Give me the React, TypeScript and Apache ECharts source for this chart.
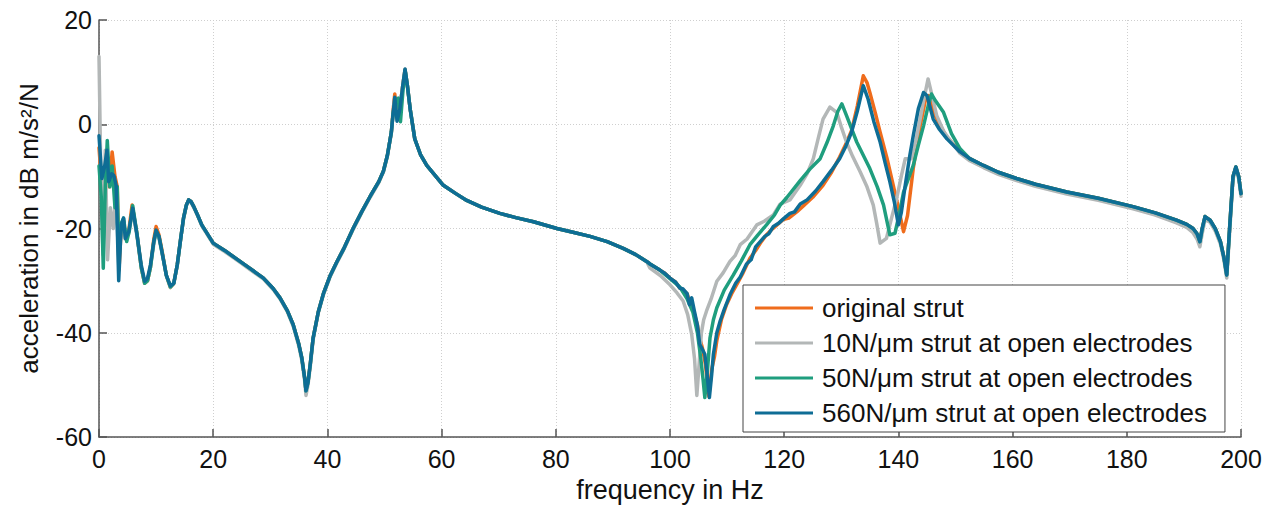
import React, { useEffect, useRef } from "react";
import * as echarts from "echarts";

type P = [number, number];

const FONT = '"Liberation Sans", Arial, Helvetica, sans-serif';

const seriesNames = [
  "original strut",
  "10N/\u03bcm strut at open electrodes",
  "50N/\u03bcm strut at open electrodes",
  "560N/\u03bcm strut at open electrodes",
];
const seriesColors = ["#ef6c1c", "#b3b7b7", "#1f9e7e", "#0e6d95"];

// ---- low-frequency part (0 - 17 Hz) ----
const lowOrange: P[] = [[0,-4.5],[0.5,-12],[1.0,-9],[1.4,-6],[1.8,-12],[2.3,-5.3],[2.8,-10],[3.2,-12],[3.5,-28],[3.9,-19.5],[4.3,-18.5],[4.6,-21.5],[5.2,-20.5],[5.8,-15.5],[6.65,-21],[7.4,-27.5],[8.0,-30.5],[8.5,-30],[9.0,-27.5],[9.6,-22],[10.0,-19.6],[10.5,-21.2],[11.0,-24],[11.8,-29],[12.5,-31.3],[13.1,-30.5],[13.7,-27],[14.3,-22],[14.8,-18],[15.3,-15.5],[15.7,-14.5],[16.1,-14.8],[16.6,-15.8],[17.3,-17.5]];
const lowGray: P[] = [[0,13],[0.3,-8],[0.7,-25],[1.1,-5],[1.5,-26],[2.0,-16],[2.5,-20],[3.0,-13],[3.45,-27],[3.9,-19.5],[4.3,-18.5],[4.6,-22],[5.2,-21],[5.9,-16.5],[6.65,-21.5],[7.4,-27.5],[8.0,-30.5],[8.5,-30],[9.0,-27.5],[9.6,-23],[10.0,-20.8],[10.5,-21.8],[11.0,-24.5],[11.8,-29],[12.5,-31.3],[13.1,-30.5],[13.7,-27.2],[14.3,-22],[14.8,-18.2],[15.3,-15.6],[15.7,-14.7],[16.1,-15],[16.6,-16],[17.3,-17.6]];
const lowGreen: P[] = [[0,-8],[0.4,-14],[0.75,-27.6],[1.1,-12],[1.45,-3.1],[1.9,-12],[2.3,-8],[2.8,-16],[3.2,-12],[3.5,-26],[3.9,-19],[4.3,-18],[4.85,-22.5],[5.3,-20.5],[5.9,-15.6],[6.65,-21],[7.4,-27.5],[8.0,-30.5],[8.5,-30],[9.0,-27.5],[9.6,-22.5],[10.0,-20.5],[10.5,-21.5],[11.0,-24.3],[11.8,-29],[12.5,-31.2],[13.1,-30.5],[13.7,-27],[14.3,-22],[14.8,-18],[15.3,-15.5],[15.7,-14.5],[16.1,-14.8],[16.6,-15.8],[17.3,-17.5]];
const lowBlue: P[] = [[0,-2.2],[0.5,-10.4],[1.0,-8],[1.4,-5],[1.7,-11],[2.2,-9.5],[2.6,-9.8],[3.0,-11.7],[3.45,-30],[3.9,-19.3],[4.3,-18],[4.6,-21.9],[5.2,-20.6],[5.9,-16.1],[6.65,-21.2],[7.4,-27],[8.0,-30.1],[8.5,-29.5],[9.0,-27],[9.6,-22.5],[10.0,-20.3],[10.5,-21.5],[11.0,-24.3],[11.8,-29],[12.5,-31],[13.1,-30.5],[13.7,-27],[14.3,-22],[14.8,-18],[15.3,-15.5],[15.7,-14.5],[16.1,-14.8],[16.6,-15.8],[17.3,-17.5]];

// ---- 18 - 51 Hz (anti-resonance at 36 Hz) ----
const midA: P[] = [[18.0,-19.3],[20.0,-22.8],[22.0,-24.2],[24.7,-26.3],[26.5,-27.7],[28.8,-29.5],[30.5,-31.5],[31.7,-33.3],[33.0,-35.8],[34.0,-38.4],[35.0,-42.2],[35.5,-44.7],[36.0,-48.5],[36.25,-51.1],[36.6,-49.5],[37.0,-46],[37.5,-41],[38.4,-36],[39.3,-32.5],[40.5,-29],[41.6,-26.5],[42.8,-24],[44.5,-20],[46.0,-16.8],[47.5,-13.8],[49.0,-11],[49.8,-9],[50.5,-6],[51.2,-1.5]];
const midAGray: P[] = [[18.0,-19.5],[20.0,-23],[22.0,-24.4],[24.7,-26.5],[26.5,-27.9],[28.8,-29.7],[30.5,-31.7],[31.7,-33.5],[33.0,-36],[34.0,-38.7],[35.0,-42.6],[35.5,-45.2],[36.0,-49],[36.25,-52],[36.6,-50],[37.0,-46.5],[37.5,-41.3],[38.4,-36.2],[39.3,-32.7],[40.5,-29.2],[41.6,-26.7],[42.8,-24.2],[44.5,-20.2],[46.0,-17],[47.5,-14],[49.0,-11.2],[49.8,-9.2],[50.5,-6.2],[51.2,-1.7]];

// ---- resonance at 53-54 Hz ----
const peakOrange: P[] = [[51.5,2.5],[51.8,5.8],[52.2,1.5],[52.7,3],[53.2,7.5],[53.6,10.5],[54.0,7.5],[54.5,2.9],[55.3,-2.8],[56.3,-5.8]];
const peakGray: P[] = [[51.5,2],[51.8,5],[52.2,0.8],[52.7,2.9],[53.2,7.5],[53.6,10.4],[54.0,7.5],[54.5,2.9],[55.3,-2.8],[56.3,-5.8]];
const peakGreen: P[] = [[51.5,2],[51.9,4.6],[52.4,5],[52.8,0.5],[53.2,6],[53.6,10.4],[54.0,7.5],[54.5,2.9],[55.3,-2.8],[56.3,-5.8]];
const peakBlue: P[] = [[51.5,2],[51.8,5.2],[52.2,0.6],[52.7,2.9],[53.2,7.5],[53.6,10.6],[54.0,7.5],[54.5,2.9],[55.3,-2.8],[56.3,-5.8]];

// ---- 57 - 96 Hz ----
const midB: P[] = [[57.4,-7.9],[60.3,-11.7],[62.5,-13.3],[64.4,-14.6],[67,-15.9],[70.2,-17.1],[73,-17.9],[76.1,-18.7],[80.2,-20],[83,-20.7],[86.0,-21.5],[89,-22.5],[91.8,-23.8],[94,-25],[95.9,-26.3]];

// ---- 96 - 151 Hz ----
const highOrange: P[] = [[96.5,-26.8],[98,-27.8],[99,-28.5],[100,-29.5],[101,-30.3],[101.7,-31.4],[102.3,-31.8],[103.0,-32.5],[103.4,-34],[103.8,-34.5],[104.3,-36.5],[104.8,-38.5],[105.2,-41],[105.7,-43],[106.2,-46],[106.8,-52.2],[107.3,-47],[107.8,-44.5],[108.2,-41.5],[109.0,-37.5],[109.9,-34.6],[110.8,-32.5],[111.8,-30.5],[112.8,-28.5],[114.0,-25.7],[115.0,-24.2],[116.0,-22.5],[116.9,-21.2],[118.0,-20],[119.8,-18.3],[120.8,-18],[122.2,-16.8],[123.5,-15.5],[125,-14],[126.8,-11.7],[128.3,-9.2],[129.7,-6.3],[130.8,-3.8],[131.8,-1.2],[132.8,3.5],[133.85,9.3],[134.5,8],[135,6.1],[136.0,2],[136.8,-1.5],[138.0,-6.5],[139.1,-11.7],[140.0,-16],[140.9,-20.6],[141.6,-17.5],[142.6,-8.5],[143.6,-1.5],[144.7,4.5],[145.3,5.5],[146.1,2.5],[147.2,0],[148.5,-2.5],[150.8,-5.2]];
const highGray: P[] = [[96.5,-27.6],[98.3,-29],[100,-30.8],[101.2,-32.3],[102.3,-33.9],[103.1,-36.5],[103.8,-40.3],[104.3,-45],[104.7,-52],[105.1,-46],[105.5,-40],[105.9,-37.5],[106.4,-35.8],[107.2,-33.5],[108.2,-30.1],[109.3,-28.5],[110.5,-26.3],[111.4,-25.2],[112.3,-23.1],[113.5,-22],[115.2,-19.3],[116.5,-18.6],[118.1,-17.4],[119.3,-15.3],[121,-14.5],[122.8,-11.7],[124,-9.5],[125.1,-6.6],[126,-2.5],[126.8,1],[128,3.3],[129.2,2.3],[130,-0.5],[130.9,-3.4],[132,-6.2],[133.3,-9.1],[134.5,-12],[135.6,-15.5],[136.2,-19],[136.8,-22.8],[137.9,-21.9],[138.8,-18],[139.7,-14.2],[140.5,-10],[141.2,-6.6],[142.3,-6.6],[143.1,-3],[143.8,1],[144.5,5],[145.2,8.7],[146,5],[146.7,1.7],[148,-1.5],[150.8,-5.6]];
const highGreen: P[] = [[96.5,-26.8],[98,-27.8],[100,-29.6],[101.7,-31.2],[103,-33.5],[104,-36],[104.8,-40],[105.4,-45],[105.8,-49],[106.1,-52.4],[106.5,-48],[107,-41],[107.6,-37.5],[108.2,-35.2],[109.5,-31.8],[111.1,-28.9],[112.5,-26.2],[114,-23.1],[115.4,-21.2],[116.9,-19.3],[118.3,-17.4],[119.3,-15.5],[120.5,-14],[122.8,-10.8],[124.5,-8.6],[126.3,-6.6],[127.5,-3.5],[128.6,-0.3],[129.4,2.5],[130.1,3.9],[130.9,1.7],[132.7,-3.4],[135,-8.5],[136.3,-12],[137.4,-15.5],[138.5,-21.2],[139.4,-20.9],[140.2,-17],[140.9,-13],[142.6,-7.9],[143.5,-4],[144.4,-0.3],[145.2,3.5],[145.8,5.8],[146.5,4.5],[147.9,2.3],[149.3,-1.8],[150.8,-4.7]];
const highBlue: P[] = [[96.5,-26.8],[98,-27.8],[99,-28.5],[100,-29.5],[101,-30.3],[101.7,-31.4],[102.3,-31.6],[103.0,-32.5],[103.4,-34.6],[103.8,-33.3],[104.3,-36],[104.8,-38.5],[105.2,-42.2],[105.6,-43],[106.1,-44.1],[106.5,-48],[106.9,-52.4],[107.3,-48],[107.6,-44.1],[108.2,-40],[108.8,-37.7],[109.5,-35.5],[110.5,-32.7],[111.5,-30.5],[112.3,-29.3],[113.4,-26.8],[114.2,-26],[115.0,-23.5],[115.8,-22.5],[116.6,-21.5],[117.3,-21],[118.1,-19.6],[119.0,-19.0],[120.0,-18.0],[121.0,-17.1],[121.8,-16.8],[122.8,-15.3],[124,-14.5],[125.5,-12.8],[126.8,-11],[128.3,-8.8],[129.7,-6.6],[130.8,-4.2],[131.8,-1.5],[132.8,2.5],[133.85,7.4],[134.7,4.8],[135.7,0.5],[136.8,-3.4],[137.7,-7.5],[138.5,-11],[139.3,-15],[140.0,-19.3],[140.5,-17],[141.2,-11.7],[142.0,-6],[142.6,-2.2],[143.5,3],[144.4,6.1],[145.0,5.5],[146.1,1.0],[147.2,-1],[148.5,-2.8],[150.8,-5.3]];

// ---- 152 - 200 Hz ----
const tail: P[] = [[152.5,-6.6],[154.9,-7.9],[157.5,-9.2],[160.7,-10.4],[164,-11.5],[169.5,-13],[175,-14.2],[181.1,-15.8],[185,-17],[188.7,-18.4],[190.5,-19.2],[191.6,-20],[192.3,-21],[192.8,-22.5],[193.2,-20],[193.7,-17.7],[194.6,-18.4],[195.5,-20],[196.4,-22.5],[197,-25.5],[197.5,-28.9],[198,-20],[198.6,-10],[199.1,-8.2],[199.6,-10],[200,-13.3]];
const tailGray: P[] = [[152.5,-7],[154.9,-8.3],[157.5,-9.6],[160.7,-10.8],[164,-11.9],[169.5,-13.4],[175,-14.6],[181.1,-16.2],[185,-17.4],[188.7,-18.9],[190.5,-19.8],[191.6,-20.8],[192.3,-22],[192.8,-23.5],[193.2,-21],[193.7,-18.3],[194.6,-18.8],[195.5,-20.5],[196.4,-23],[197,-26],[197.5,-29.5],[198,-21],[198.6,-10.5],[199.1,-8.6],[199.6,-10.5],[200,-13.8]];

const xTicks = { min: 0, max: 200, interval: 20 };
const yTicks = { min: -60, max: 20, interval: 20 };

const seriesData: P[][] = [
  [...lowOrange, ...midA, ...peakOrange, ...midB, ...highOrange, ...tail],
  [...lowGray, ...midAGray, ...peakGray, ...midB, ...highGray, ...tailGray],
  [...lowGreen, ...midA, ...peakGreen, ...midB, ...highGreen, ...tail],
  [...lowBlue, ...midA, ...peakBlue, ...midB, ...highBlue, ...tail],
];

export default function App() {
  const ref = useRef<HTMLDivElement>(null);
  useEffect(() => {
    if (!ref.current) return;
    const chart = echarts.init(ref.current, null, { renderer: "svg" });
    const axisColor = "#555";
    const gridLine = { show: true, lineStyle: { color: "#cfcfcf", type: [1, 2], width: 1 } };
    chart.setOption({
      animation: false,
      backgroundColor: "#fff",
      textStyle: { fontFamily: FONT },
      grid: { left: 99, right: 39, top: 20, bottom: 68, containLabel: false },
      xAxis: {
        type: "value",
        ...xTicks,
        name: "frequency in Hz",
        nameLocation: "middle",
        nameGap: 38,
        nameTextStyle: { fontSize: 27, color: "#111", fontFamily: FONT },
        axisLine: { show: true, onZero: false, lineStyle: { color: axisColor, width: 1.5 } },
        axisTick: { show: true, inside: true, length: 8, lineStyle: { color: axisColor, width: 1.5 } },
        axisLabel: { fontSize: 25, color: "#111", margin: 9, fontFamily: FONT },
        splitLine: gridLine,
      },
      yAxis: {
        type: "value",
        ...yTicks,
        name: "acceleration in dB m/s\u00b2/N",
        nameLocation: "middle",
        nameGap: 57,
        nameTextStyle: { fontSize: 26, color: "#111", fontFamily: FONT },
        axisLine: { show: true, onZero: false, lineStyle: { color: axisColor, width: 1.5 } },
        axisTick: { show: true, inside: true, length: 8, lineStyle: { color: axisColor, width: 1.5 } },
        axisLabel: { fontSize: 25, color: "#111", margin: 7, fontFamily: FONT },
        splitLine: gridLine,
      },
      legend: {
        orient: "vertical",
        left: 743,
        top: 285,
        padding: [8, 18, 4, 12],
        itemGap: 5,
        itemWidth: 58,
        itemHeight: 3,
        icon: "rect",
        backgroundColor: "#fff",
        borderColor: "#444",
        borderWidth: 1,
        borderRadius: 0,
        textStyle: { fontSize: 26, color: "#111", lineHeight: 30, fontFamily: FONT, padding: [0, 0, 0, 4] },
        data: seriesNames,
      },
      series: seriesNames.map((name, i) => ({
        name,
        type: "line",
        data: seriesData[i],
        showSymbol: false,
        symbol: "none",
        color: seriesColors[i],
        lineStyle: { width: 3.5, color: seriesColors[i], join: "round", cap: "round" },
        z: 2 + i,
      })),
    });
    return () => chart.dispose();
  }, []);
  return (
    <div
      ref={ref}
      style={{ position: "fixed", left: 0, top: 0, width: 1280, height: 508, background: "#fff" }}
    />
  );
}
